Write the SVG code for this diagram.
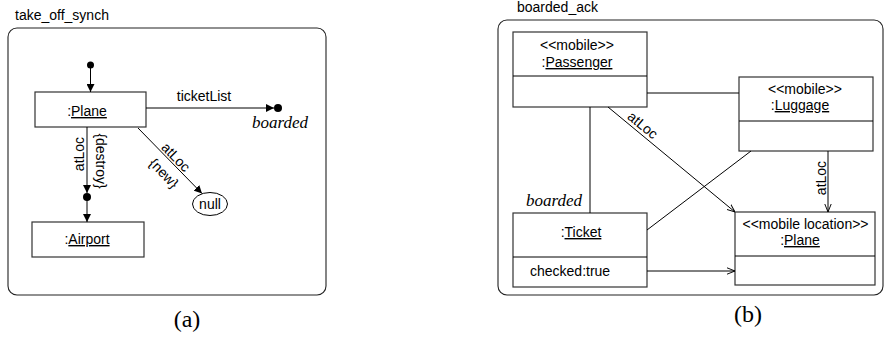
<svg xmlns="http://www.w3.org/2000/svg" width="885" height="338" viewBox="0 0 885 338">
<defs>
<style>
.t{font-family:"Liberation Sans",Arial,sans-serif;font-size:14px;fill:#000}
.s{font-family:"Liberation Serif","Times New Roman",serif;fill:#000}
.box{fill:#fff;stroke:#333;stroke-width:1.2}
.frame{fill:none;stroke:#222;stroke-width:1.1}
.ln{fill:none;stroke:#000;stroke-width:1}
</style>
<marker id="fa" viewBox="0 0 10 10" refX="10" refY="5" markerWidth="8" markerHeight="8" orient="auto" markerUnits="userSpaceOnUse"><path d="M0,0 L10,5 L0,10 z" fill="#000"/></marker>
<marker id="oa" viewBox="0 0 10 10" refX="10" refY="5" markerWidth="8" markerHeight="8" orient="auto" markerUnits="userSpaceOnUse"><path d="M0,1 L10,5 L0,9" fill="none" stroke="#000" stroke-width="1.2"/></marker>
</defs>
<rect width="885" height="338" fill="#fff"/>

<!-- (a) -->
<g id="frameA">
<text class="t" x="15" y="20">take_off_synch</text>
<rect class="frame" x="8" y="28" width="318" height="267" rx="9"/>
<text class="s" x="187" y="327" font-size="24" text-anchor="middle">(a)</text>
</g>
<g id="planeA">
<rect class="box" x="35" y="92" width="111" height="35"/>
<text class="t" x="87" y="116" text-anchor="middle">:<tspan text-decoration="underline">Plane</tspan></text>
</g>
<g id="airport">
<rect class="box" x="32" y="222" width="112" height="35"/>
<text class="t" x="87" y="244" text-anchor="middle">:<tspan text-decoration="underline">Airport</tspan></text>
</g>
<g id="nullA">
<ellipse cx="210" cy="204" rx="17.5" ry="11.5" fill="#fff" stroke="#000" stroke-width="1"/>
<text class="t" x="210" y="209" text-anchor="middle">null</text>
</g>
<g id="initA">
<circle cx="90.5" cy="65" r="3.5" fill="#000"/>
</g>
<g id="boardedA">
<circle cx="278" cy="108" r="4" fill="#000"/>
<text class="s" x="252" y="128" font-size="17" font-style="italic">boarded</text>
</g>
<g id="destroyPt">
<circle cx="87" cy="197" r="4" fill="#000"/>
</g>

<g id="connectorsA">
<line class="ln" x1="90.5" y1="65" x2="90.5" y2="92" marker-end="url(#fa)"/>
<line class="ln" x1="146" y1="108" x2="274" y2="108" marker-end="url(#fa)"/>
<text class="t" x="204" y="101" text-anchor="middle">ticketList</text>
<line class="ln" x1="87" y1="127" x2="87" y2="193" marker-end="url(#fa)"/>
<line class="ln" x1="87" y1="197" x2="87" y2="222" marker-end="url(#fa)"/>
<text class="t" transform="translate(84,154) rotate(-90)" text-anchor="middle">atLoc</text>
<text class="t" transform="translate(96,161) rotate(90)" text-anchor="middle">{destroy}</text>
<line class="ln" x1="138" y1="128" x2="202" y2="193.5" marker-end="url(#fa)"/>
<text class="t" transform="translate(176,157) rotate(45.5)" y="5" text-anchor="middle">atLoc</text>
<text class="t" transform="translate(164,173) rotate(45.5)" y="5" text-anchor="middle">{new}</text>
</g>

<!-- (b) -->
<g id="frameB">
<text class="t" x="517" y="12">boarded_ack</text>
<rect class="frame" x="498" y="20" width="385" height="275" rx="9"/>
<text class="s" x="748" y="322" font-size="24" text-anchor="middle">(b)</text>
</g>
<g id="passenger">
<rect class="box" x="513" y="32" width="134" height="75"/>
<line class="ln" x1="513" y1="76" x2="647" y2="76" stroke="#333"/>
<text class="t" x="577" y="50" text-anchor="middle">&lt;&lt;mobile&gt;&gt;</text>
<text class="t" x="577" y="67" text-anchor="middle">:<tspan text-decoration="underline">Passenger</tspan></text>
</g>
<g id="luggage">
<rect class="box" x="739" y="77" width="134" height="74"/>
<line class="ln" x1="739" y1="121" x2="873" y2="121" stroke="#333"/>
<text class="t" x="805" y="94" text-anchor="middle">&lt;&lt;mobile&gt;&gt;</text>
<text class="t" x="800" y="110" text-anchor="middle">:<tspan text-decoration="underline">Luggage</tspan></text>
</g>
<g id="ticket">
<rect class="box" x="513" y="213" width="134" height="74"/>
<line class="ln" x1="513" y1="257" x2="647" y2="257" stroke="#333"/>
<text class="t" x="581" y="237" text-anchor="middle">:<tspan text-decoration="underline">Ticket</tspan></text>
<text class="t" x="530" y="276">checked:true</text>
<text class="s" x="526" y="206" font-size="17" font-style="italic">boarded</text>
</g>
<g id="planeB">
<rect class="box" x="735" y="212" width="140" height="73"/>
<line class="ln" x1="735" y1="256" x2="875" y2="256" stroke="#333"/>
<text class="t" x="805.5" y="229" text-anchor="middle">&lt;&lt;mobile location&gt;&gt;</text>
<text class="t" x="800" y="245" text-anchor="middle">:<tspan text-decoration="underline">Plane</tspan></text>
</g>

<g id="connectorsB">
<line class="ln" x1="647" y1="93" x2="739" y2="93"/>
<line class="ln" x1="590" y1="107" x2="590" y2="213"/>
<line class="ln" x1="608" y1="107" x2="735" y2="212" marker-end="url(#oa)"/>
<text class="t" transform="translate(643,125) rotate(39.6)" y="5" text-anchor="middle">atLoc</text>
<line class="ln" x1="828" y1="151" x2="828" y2="212" marker-end="url(#oa)"/>
<text class="t" transform="translate(826,178) rotate(-90)" text-anchor="middle">atLoc</text>
<line class="ln" x1="751" y1="151" x2="647" y2="230"/>
<line class="ln" x1="647" y1="271" x2="735" y2="271" marker-end="url(#oa)"/>
</g>
</svg>
